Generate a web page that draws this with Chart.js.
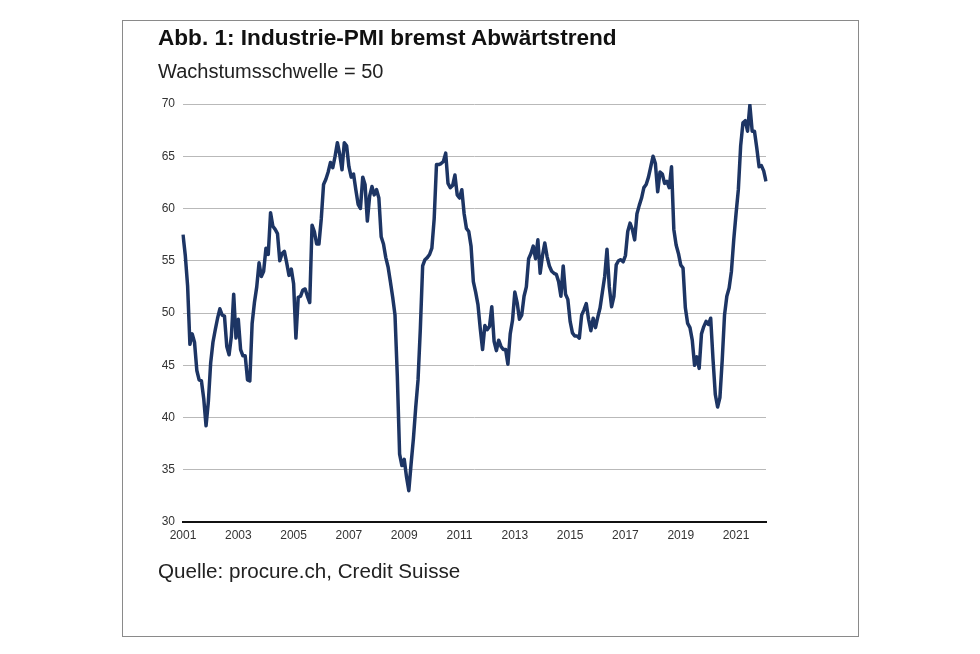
<!DOCTYPE html>
<html>
<head>
<meta charset="utf-8">
<script src="https://cdn.jsdelivr.net/npm/chart.js@4"></script>
<style>
  body { margin: 0; background: #fff; }
  #wrap { position: relative; width: 980px; height: 654px; overflow: hidden; }
  #frame { position: absolute; left: 122px; top: 20px; width: 735px; height: 615px; border: 1px solid #8a8a8a; }
  canvas { position: absolute; left: 0; top: 0; }
  .txt { position: absolute; left: 158px; font-family: "Liberation Sans", Arial, sans-serif; color: #111; white-space: nowrap; }
  #title { top: 25px; font-size: 22.6px; font-weight: bold; }
  #subtitle { top: 60px; font-size: 20px; color: #222; }
  #source { top: 559px; font-size: 20.6px; color: #222; }
</style>
</head>
<body>
<div id="wrap">
  <div id="frame"></div>
  <canvas id="pmiChart" width="980" height="654"></canvas>
  <div class="txt" id="title">Abb. 1: Industrie-PMI bremst Abwärtstrend</div>
  <div class="txt" id="subtitle">Wachstumsschwelle = 50</div>
  <div class="txt" id="source">Quelle: procure.ch, Credit Suisse</div>
</div>
<script>
// Monthly PMI values
const years = [2001, 2002, 2003, 2004, 2005, 2006, 2007, 2008, 2009, 2010, 2011,
               2012, 2013, 2014, 2015, 2016, 2017, 2018, 2019, 2020, 2021, 2022];
const pmi2001 = [57.5, 55.5, 52.6, 47.0, 48.0, 47.2, 44.5, 43.6, 43.5, 41.8, 39.2, 41.5];
const pmi2002 = [45.2, 47.2, 48.4, 49.5, 50.4, 49.8, 49.7, 46.8, 46.0, 47.8, 51.8, 47.6];
const pmi2003 = [49.4, 46.5, 45.9, 45.9, 43.6, 43.5, 49.0, 51.0, 52.5, 54.8, 53.5, 54.0];
const pmi2004 = [56.2, 55.6, 59.6, 58.3, 58.0, 57.6, 55.0, 55.7, 55.9, 54.8, 53.6, 54.2];
const pmi2005 = [52.8, 47.6, 51.5, 51.6, 52.2, 52.3, 51.6, 51.0, 58.4, 57.8, 56.6, 56.6];
const pmi2006 = [59.0, 62.3, 62.8, 63.5, 64.4, 63.9, 65.0, 66.3, 65.2, 63.7, 66.3, 66.0];
const pmi2007 = [64.0, 63.0, 63.3, 61.8, 60.4, 60.0, 63.0, 62.3, 58.8, 61.2, 62.1, 61.3];
const pmi2008 = [61.8, 61.0, 57.3, 56.6, 55.3, 54.4, 53.0, 51.5, 49.8, 44.0, 36.5, 35.4];
const pmi2009 = [36.0, 34.3, 33.0, 35.6, 38.0, 41.0, 43.6, 48.5, 54.5, 55.1, 55.3, 55.6];
const pmi2010 = [56.2, 59.0, 64.2, 64.2, 64.3, 64.5, 65.3, 62.4, 62.0, 62.2, 63.2, 61.3];
const pmi2011 = [61.0, 61.8, 59.5, 58.1, 57.8, 56.4, 53.0, 52.0, 50.8, 48.5, 46.5, 48.8];
const pmi2012 = [48.4, 48.7, 50.6, 47.3, 46.4, 47.4, 46.8, 46.5, 46.5, 45.1, 48.0, 49.3];
const pmi2013 = [52.0, 51.0, 49.4, 49.8, 51.6, 52.5, 55.2, 55.7, 56.4, 55.2, 57.0, 53.8];
const pmi2014 = [55.5, 56.7, 55.4, 54.5, 54.0, 53.8, 53.7, 53.0, 51.6, 54.5, 51.8, 51.3];
const pmi2015 = [49.2, 48.1, 47.8, 47.8, 47.6, 49.8, 50.3, 50.9, 49.4, 48.3, 49.5, 48.6];
const pmi2016 = [49.6, 50.5, 52.0, 53.5, 56.1, 52.5, 50.6, 51.6, 54.6, 55.0, 55.1, 54.9];
const pmi2017 = [55.5, 57.8, 58.6, 58.0, 57.0, 59.5, 60.3, 61.0, 62.0, 62.3, 63.0, 64.0];
const pmi2018 = [65.0, 64.3, 61.6, 63.5, 63.3, 62.4, 62.6, 62.0, 64.0, 58.0, 56.5, 55.7];
const pmi2019 = [54.6, 54.3, 50.5, 49.0, 48.6, 47.4, 45.0, 45.8, 44.7, 48.0, 48.7, 49.2];
const pmi2020 = [48.9, 49.5, 45.6, 42.2, 41.0, 41.9, 45.5, 49.8, 51.6, 52.4, 54.0, 57.0];
const pmi2021 = [59.5, 61.8, 66.0, 68.2, 68.4, 67.4, 69.9, 67.4, 67.4, 65.8, 64.0, 64.1];
const pmi2022 = [63.6, 62.6];

const tickYears = ['2001', '2003', '2005', '2007', '2009', '2011', '2013', '2015', '2017', '2019', '2021'];
const yTicks = [30, 35, 40, 45, 50, 55, 60, 65, 70];

const pmiByYear = [pmi2001, pmi2002, pmi2003, pmi2004, pmi2005, pmi2006, pmi2007, pmi2008,
  pmi2009, pmi2010, pmi2011, pmi2012, pmi2013, pmi2014, pmi2015, pmi2016, pmi2017,
  pmi2018, pmi2019, pmi2020, pmi2021, pmi2022];

// flatten into month labels + values
const labels = [];
const values = [];
pmiByYear.forEach((arr, i) => {
    arr.forEach((v, k) => {
        labels.push(years[i] + '-' + String(k + 1).padStart(2, '0'));
        values.push(v);
    });
});

const tickFont = { family: '"Liberation Sans", Arial, sans-serif', size: 12 };

const ctx = document.getElementById('pmiChart').getContext('2d');
new Chart(ctx, {
    type: 'line',
    data: {
        labels: labels,
        datasets: [{
            label: 'Industrie-PMI',
            data: values,
            borderColor: '#1d3564',
            borderWidth: 3.5,
            pointRadius: 0,
            tension: 0,
            borderJoinStyle: 'round'
        }]
    },
    options: {
        responsive: false,
        animation: false,
        layout: { padding: { left: 158, right: 214, top: 104, bottom: 102 } },
        plugins: {
            legend: { display: false },
            tooltip: { enabled: false }
        },
        scales: {
            x: {
                offset: false,
                grid: { display: false, drawTicks: false },
                border: { display: true, color: '#111', width: 2 },
                ticks: {
                    autoSkip: false,
                    maxRotation: 0,
                    padding: 6,
                    color: '#333',
                    font: tickFont,
                    callback: function (value) {
                        const lab = this.getLabelForValue(value);
                        const yr = lab.slice(0, 4);
                        return (lab.endsWith('-01') && tickYears.includes(yr)) ? yr : '';
                    }
                },
                afterFit: (scale) => { scale.height = 30; }
            },
            y: {
                min: 30,
                max: 70,
                afterBuildTicks: (scale) => { scale.ticks = yTicks.map(v => ({ value: v })); },
                grid: {
                    drawTicks: false,
                    color: (c) => c.tick && c.tick.value === 30 ? 'rgba(0,0,0,0)' : '#b9b9b9',
                    lineWidth: 1
                },
                border: { display: false },
                ticks: { padding: 8, color: '#333', font: tickFont },
                afterFit: (scale) => { scale.width = 25; }
            }
        }
    }
});
</script>
</body>
</html>
